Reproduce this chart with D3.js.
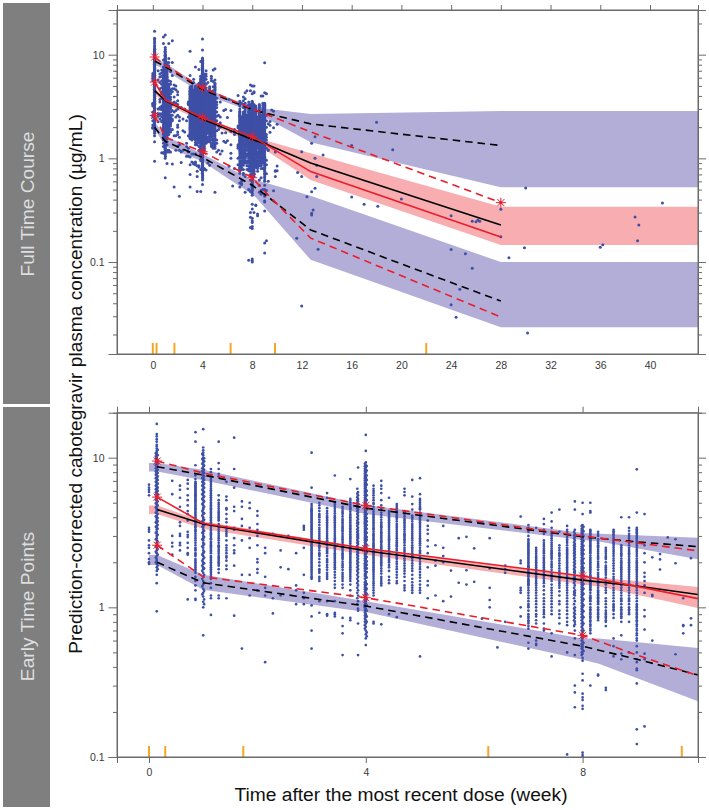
<!DOCTYPE html>
<html><head><meta charset="utf-8">
<style>
html,body{margin:0;padding:0;background:#fff}
svg{display:block}
text{font-family:"Liberation Sans",Arial,sans-serif}
.ax path,.ax line{stroke:#6a6a6a;stroke-width:1}
.ax text{fill:#3a3a3a;font-size:10.5px}
</style>
<script src="https://cdn.jsdelivr.net/npm/d3@7"></script>
</head><body>
<svg id="c" width="709" height="810"></svg>
<script>
// Observed values, one list per nominal day after the most recent dose
const obsDays=[0,1,3,4,5,6,7,8,9,10,11,12,13,14,15,16,17,18,19,20,21,22,23,24,25,26,27,28,29,30,31,32,33,34,35,36,37,38,39,40,41,42,43,44,45,46,48,49,50,51,52,53,54,55,56,57,58,59,60,61,62,63,64,65,66,67,68,69,70];
const obsValues=[
[6.6,6.3,6.1,5.9,5.6,3.4,3.3,3.2,2.8,2.6,2.5,2.3,2.1,2.0,1.95],
[16.8,14.4,13.9,13.3,12.8,12.2,11.9,11.5,11.1,10.8,10.5,10.3,10.1,9.9,9.7,9.5,9.2,9.0,8.8,8.6,8.4,8.2,8.0,7.8,7.6,7.4,7.2,7.0,6.8,6.6,6.4,6.25,6.1,5.95,5.8,5.65,5.5,5.35,5.2,5.05,4.9,4.75,4.6,4.5,4.4,4.25,4.1,4.0,3.9,3.8,3.65,3.5,3.4,3.3,3.2,3.1,3.0,2.9,2.8,2.7,2.6,2.5,2.4,2.3,2.2,2.1,2.05,1.95,1.85,1.75,1.65,1.45,0.94],
[7.0,5.7,3.0,2.7,2.55,2.25],
[6.5,6.1,5.4,4.7,3.7,3.5,3.1,3.0,2.7,2.6,2.4],
[7.1,6.7,6.2,5.6,5.2,4.8,4.4,4.2,3.8,3.2,3.05,2.95,2.7,2.5,2.3,2.25,1.13],
[14.8,12.8,8.9,7.6,7.2,6.9,6.7,6.4,6.2,6.0,5.8,5.6,5.4,5.2,5.0,4.8,4.6,4.4,4.3,4.1,4.0,3.8,3.7,3.5,3.4,3.3,3.2,3.1,2.9,2.8,2.7,2.5,2.4,2.3,2.2,2.1,2.0,1.9,1.8,1.7,1.14,1.12],
[15.5,11.7,11.2,10.8,10.4,10,9.6,9.3,9,8.7,8.4,8.2,8,7.8,7.6,7.4,7.2,7,6.8,6.6,6.4,6.2,6,5.8,5.6,5.4,5.2,5,4.8,4.6,4.5,4.3,4.2,4,3.9,3.8,3.7,3.6,3.5,3.4,3.3,3.2,3.1,3,2.9,2.8,2.7,2.6,2.5,2.4,2.3,2.2,2.1,2,1.95,1.85,1.8,1.7,1.6,1.5,1.42,1.33,1.25,1.18,1.09,1.0,0.65],
[8.4,7.5,7,6.6,6.2,5.9,5.6,5.3,5.0,4.8,4.6,4.4,4.2,4.0,3.8,3.6,3.5,3.4,3.25,3.1,3.0,2.85,2.7,2.6,2.5,2.4,2.3,2.15,2.05,1.95,1.85,1.75,1.6,1.2,1.15,0.89],
[12.8,9.2,8.4,7.8,5.2,5,4.7,4.4,4.2,4,3.8,3.4,3.2,3,2.8,2.6,2.5,2.35,2.2,2.1,2,1.9,1.2,1.15],
[6.9,5.2,4.6,4.5,3.7,3.3,3.2,3.1,2.6,2.5,2.4,2.2,2.05,1.9,1.15],
[13.6,8.4,6.3,4.7,4.4,3.4,3.3,2.9,2.6,2.4,2.3,1.9,0.88],
[5.1,4.7,3.9,3.5,2.8,1.65,0.53],
[5.0,4.6,3.4,2.9,2.5,1.65,1.2],
[4.4,4.1,3.6,3.3,3.0,2.6,2.1,2.0,1.8,1.7,1.3],
[2.5,2.3,1.6,1.35,1.2,0.43],
[3.1,1.15,0.91],
[2.4,1.85,1.2],
[3.0,1.8],
[2.3,1.4,1.3,1.05],
[3.5,3.4,3.3,2.5,1.65,1.25,1.15,1.05],
[10.8,6.3,4.9,4.6,4.45,4.3,4.15,4,3.85,3.7,3.55,3.4,3.3,3.15,3,2.85,2.7,2.6,2.5,2.4,2.3,2.2,2.1,2,1.9,1.8,1.7,1.6,1.55,1.03,0.87,0.7,0.53],
[5,4.6,4.2,4,3.7,3.4,3.2,3,2.8,2.6,2.5,2.3,2.2,2,1.8,1.7,1.55,1.1,0.92],
[5.8,5.4,4.4,4.1,3.9,3.7,3.5,3.3,3.1,3,2.8,2.7,2.5,2.4,2.3,2.1,2,1.85,1.7,1.6,1.1,0.9,0.88],
[7.6,5,4.7,4.4,4.1,3.9,3.7,3.5,3.3,3.1,2.9,2.75,2.6,2.45,2.3,2.2,2.1,2,1.9,1.8,1.65,1.5,1.1,0.92,0.9,0.87],
[4.7,4.4,4.2,3.9,3.7,3.5,3.35,3.2,3,2.85,2.7,2.55,2.45,2.3,2.2,2.1,1.95,1.85,1.7,1.6,1.5,0.85,0.75,0.67,0.48],
[7.2,5.3,5,4.7,4.5,4.2,4,3.8,3.6,3.45,3.3,3.15,3,2.9,2.75,2.6,2.5,2.4,2.3,2.2,2.1,2,1.9,1.8,1.7,1.6,1.5,0.85,0.82],
[8.6,5.9,5.6,5.3,5.1,4.9,4.7,4.5,4.3,4.1,3.9,3.7,3.6,3.4,3.25,3.1,3,2.9,2.75,2.65,2.5,2.4,2.3,2.2,2.1,2,1.9,1.8,1.7,1.6,1.5,1.4,1.3,1.2,1.1,0.98,0.95,0.78,0.48],
[14.2,11.1,9.3,8.9,8.6,8.3,8,7.7,7.4,7.2,6.9,6.7,6.5,6.3,6.1,5.9,5.7,5.5,5.3,5.15,5,4.85,4.7,4.55,4.4,4.25,4.1,4,3.9,3.8,3.7,3.6,3.5,3.4,3.3,3.2,3.1,3,2.9,2.85,2.75,2.65,2.55,2.5,2.4,2.3,2.25,2.15,2.1,2,1.95,1.9,1.85,1.8,1.7,1.65,1.6,1.5,1.45,1.4,1.35,1.3,1.25,1.2,1.15,1.1,1.06,1.02,0.98,0.94,0.9,0.86,0.82,0.78,0.74,0.7,0.66,0.62,0.56],
[6.5,6,5.6,5.2,4.9,4.5,4.2,4,3.8,3.6,3.4,3.3,3.1,3,2.85,2.7,2.6,2.5,2.35,2.25,2.15,2.05,1.95,1.85,1.75,1.65,1.55,1.45,1.35,1.25,0.8,0.78],
[7,6.5,5.8,4.8,4.3,4,3.7,3.5,3.4,3.2,3.1,2.95,2.8,2.7,2.55,2.45,2.3,2.2,2.1,2,1.9,1.75,1.6,1.5,1.4,0.77],
[5.4,4.4,4.2,4,3.8,3.6,3.4,3.2,3,2.85,2.7,2.55,2.4,2.25,2.1,2,1.85,1.6,1.45,0.9],
[4.9,4.6,4.35,4.1,3.9,3.6,3.4,3.2,3,2.8,2.65,2.55,2.4,2.2,2.1,1.95,1.8,1.65,1.5,1.45,0.86],
[6.2,5.9,5.6,4.4,4.2,3.9,3.7,3.5,3.3,3.1,3,2.85,2.7,2.5,2.35,2.2,2.05,1.9,1.75,1.6,1.4,1.3],
[7.1,5.5,4.9,4.1,3.9,3.6,3.4,3.2,3,2.8,2.6,2.45,2.3,2.2,2.05,1.9,1.75,1.55,1.4,1.3,1.25],
[7.3,5.7,5.3,5,4.7,4.5,4.1,3.9,3.7,3.5,3.3,3.1,2.9,2.75,2.6,2.4,2.3,2.1,1.95,1.8,1.65,1.5,1.35,1.25,0.47],
[3.8,3.5,3.3,3.1,2.8,2.55,2.3,1.85,1.5,1.4,1.15],
[2.6,2.05,1.9,1.2],
[3.5,2.5,2.2,2,1.1],
[1.76,1.18],
[2.9,1.46],
[2.96,1.77,1.42],
[2.48,1.48],
[3.7,0.84],
[2.9,1.82,1.35,1.12,1.0],
[0.54],
[1.9,1.8,1.7,0.8],
[4.04,2.05,1.97,1.35,1.3,1.25,1.0,0.87],
[3.55,3.4,3.2,2.85,2.7,2.6,2.5,2.4,2.3,2.2,2.1,2.05,2,1.9,1.85,1.8,1.7,1.65,1.6,1.55,1.5,1.45,1.4,1.3,1.2,1.1,1.05,1,0.9,0.85,0.8,0.75,0.72,0.58,0.53],
[3.4,2.5,2.35,2.2,2.1,2,1.9,1.8,1.7,1.6,1.5,1.45,1.35,1.25,1.15,1.05,0.95,0.87,0.78,0.6,0.57,0.56],
[3.9,3.6,3.3,3.1,2.7,2.55,2.4,2.3,2.15,2.05,1.95,1.85,1.75,1.65,1.55,1.45,1.3,1.15,1.1,1,0.93,0.86,0.78,0.72,0.7],
[4.3,3.75,3.4,3.1,2.9,2.7,2.55,2.4,2.3,2.2,2.1,1.95,1.85,1.7,1.6,1.5,1.35,1.25,1.2,1.1,1,0.9,0.67,0.47],
[4.5,3.2,2.5,2.3,2.2,2.05,1.9,1.75,1.65,1.55,1.45,1.35,1.1,1.05,0.85,0.78],
[3.5,3.3,3.1,2.85,2.7,2.5,2.4,2.3,2.2,2.1,2,1.9,1.8,1.7,1.6,1.5,1.4,1.3,1.2,1.1,1,0.95,0.85,0.8,0.76,0.5,0.104],
[5.1,4.5,3.3,3.1,2.95,2.8,2.65,2.55,2.45,2.35,2.25,2.15,2.05,1.95,1.85,1.75,1.7,1.6,1.55,1.5,1.4,1.3,1.25,1.2,1.1,1,0.95,0.9,0.85,0.8,0.77,0.7,0.62,0.48,0.3,0.27,0.215],
[5,4.2,3.55,3.4,3.3,3.2,3.1,3,2.9,2.8,2.7,2.6,2.5,2.45,2.35,2.3,2.2,2.1,2.05,2,1.9,1.85,1.8,1.75,1.7,1.65,1.6,1.55,1.5,1.45,1.4,1.35,1.3,1.25,1.2,1.15,1.1,1.05,1,0.96,0.92,0.88,0.84,0.8,0.76,0.72,0.68,0.65,0.62,0.59,0.56,0.54,0.52,0.49,0.46,0.44,0.36,0.325,0.265,0.25,0.24,0.22,0.21,0.107,0.103,0.1],
[5,4.4,4.3,3.3,3.2,3.05,2.9,2.8,2.7,2.6,2.5,2.4,2.3,2.15,2.05,1.95,1.85,1.75,1.65,1.6,1.5,1.45,1.4,1.35,1.3,1.2,1.15,1.1,1,0.95,0.9,0.85,0.8,0.75,0.72,0.7,0.67,0.3],
[3.2,3,2.75,2.6,2.5,2.35,2.2,2.1,1.95,1.85,1.7,1.6,1.5,1.4,1.3,1.25,1.2,1.15,1.1,1.05,0.97,0.92,0.87,0.82,0.35,0.355],
[2.5,2.35,2.2,2.1,1.9,1.8,1.75,1.65,1.5,1.35,1.25,1.1,1.05,0.95,0.9,0.85,0.8,0.75,0.29,0.28],
[3.3,3.15,3,2.8,2.65,2.5,2.35,2.2,2.05,1.9,1.75,1.6,1.5,1.35,1.25,1.15,1.05,1,0.95,0.85,0.62,0.55,0.47],
[4,2.6,2.45,2.3,2.2,2.05,1.95,1.85,1.75,1.65,1.55,1.45,1.35,1.25,1.15,1.1,1,0.95,0.9,0.85,0.8,0.65,0.49,0.45],
[4,3.4,3.1,2.9,2.7,2.5,2.35,2.25,2.1,2,1.9,1.85,1.75,1.65,1.55,1.45,1.35,1.25,1.15,1.1,1,0.95,0.9,0.8,0.5],
[8.36,4.3,3.4,3.25,3.1,2.95,2.8,2.65,2.5,2.35,2.2,2.05,1.95,1.85,1.75,1.65,1.55,1.45,1.4,1.35,1.25,1.15,1.05,1,0.95,0.9,0.85,0.8,0.75,0.7,0.65,0.6,0.55,0.5,0.45,0.43,0.39,0.38,0.31,0.153,0.122],
[4.2,2.6,2.3,2,1.7,1.6,1.5,1.4,1.25,0.96,0.87,0.71,0.49,0.45,0.16],
[2.16,1.21,1.19,0.6],
[2.27,2.09,1.79],
[2.93],
[2.85,1.97,0.486],
[1.15,0.76,0.75,0.67],
[2.13,0.845,0.76]
];
// Further readings in the crowded columns, where samples fall slightly off the nominal day
const extraDays=[0.88,1.12,6,6.88,7.12,8,9,10,21,22,23,24,25,26,26.9,27.88,28.12,29,30,31,32,33,34,35,49,50,51,52,53,54,54.9,55.88,56.12,57,58,59,60,61,62,63];
const extraValues=[
[10.7,10.2,9.8,9.35,8.9,8.5,8.1,7.7,7.3,6.9,6.5,6.15,5.85,5.55,5.25,4.95,4.65,4.3,4.05,3.7,3.45,3.15,2.85,2.55,2.35,2.15,2.0],
[11.3,10.4,9.6,9.1,8.7,8.3,7.9,7.5,7.1,6.7,6.3,6,5.7,5.4,5.1,4.8,4.45,4.2,3.95,3.75,3.55,3.35,3.05,2.75,2.45,2.25,1.9,1.8],
[6.75,6.55,6.3,6.1,5.9,5.7,5.5,5.3,5.1,4.9,4.7,4.5,4.2,3.9,3.6,3.45,3.25,3.0,2.6,2.45,2.25,2.05,1.95,1.85,1.75,1.6,1.5,1.4,1.3],
[10.6,9.8,9.1,8.5,8.1,7.7,7.3,6.9,6.5,6.1,5.7,5.3,4.9,4.4,4.1,3.75,3.45,3.15,2.85,2.55,2.25,2.05,1.9,1.75,1.55,1.38,1.22],
[9.9,9.45,8.85,8.3,7.9,7.5,7.1,6.7,6.3,5.9,5.5,5.1,4.7,4.25,3.85,3.55,3.25,2.95,2.65,2.35,2.15,1.97,1.82,1.65,1.46,1.29,1.13,1.05],
[8.0,7.2,6.8,6.4,6.05,5.75,5.45,5.15,4.9,4.7,4.5,4.3,4.1,3.9,3.7,3.3,3.15,3.05,2.9,2.75,2.65,2.55,2.45,2.35,2.2,2.1,2.0,1.9,1.8,1.7,1.65,1.55,1.45,1.35],
[7.5,5.6,4.85,4.55,4.3,4.1,3.9,3.6,3.3,3.1,2.9,2.7,2.55,2.42,2.28,2.15,2.05,1.95,1.8,1.7],
[5.5,4.2,3.9,3.45,3,2.8,2.3,2.15,1.8],
[4.75,4.5,4.38,4.22,4.08,3.92,3.78,3.62,3.48,3.35,3.22,3.08,2.92,2.78,2.65,2.55,2.45,2.35,2.25,2.15,2.05,1.95,1.85,1.75,1.65,1.58],
[4.8,4.4,4.1,3.85,3.55,3.3,3.1,2.9,2.7,2.55,2.4,2.25,2.1,1.9,1.75,1.6,1.5],
[4.6,4.25,4,3.8,3.6,3.4,3.2,2.9,2.75,2.6,2.45,2.35,2.2,2.05,1.92,1.78,1.65,1.55],
[4.85,4.55,4.25,4,3.8,3.6,3.4,3.2,3,2.82,2.68,2.52,2.38,2.25,2.15,2.05,1.95,1.85,1.72,1.58,1.42,1.35],
[4.55,4.3,4.05,3.8,3.6,3.42,3.28,3.1,2.92,2.78,2.62,2.5,2.38,2.25,2.15,2.02,1.9,1.78,1.65,1.55,1.42,1.35],
[5.15,4.85,4.6,4.35,4.1,3.9,3.7,3.52,3.38,3.22,3.08,2.95,2.82,2.68,2.55,2.45,2.35,2.25,2.15,2.05,1.95,1.85,1.75,1.65,1.55,1.42,1.3,1.2],
[6.2,5.75,5.45,5.2,5,4.8,4.6,4.4,4.2,4,3.8,3.65,3.5,3.32,3.18,3.05,2.95,2.82,2.7,2.58,2.45,2.35,2.25,2.15,2.05,1.95,1.85,1.75,1.65,1.55,1.45,1.35,1.25,1.15,1.05],
[9.1,8.75,8.45,8.15,7.85,7.55,7.3,7.05,6.8,6.6,6.4,6.2,6,5.8,5.6,5.4,5.22,5.07,4.92,4.77,4.62,4.47,4.32,4.17,4.05,3.95,3.85,3.75,3.65,3.55,3.45,3.35,3.25,3.15,3.05,2.95,2.87,2.8,2.7,2.6,2.52,2.45,2.35,2.27,2.2,2.12,2.05,1.97,1.92,1.87,1.82,1.75,1.67,1.62,1.55,1.47,1.42,1.37,1.32,1.27,1.22,1.17,1.12,1.08,1.04,1,0.96,0.92,0.88,0.84,0.8,0.76,0.72],
[8.8,8.2,7.6,7.1,6.6,6.0,5.6,5.2,4.8,4.5,4.2,3.95,3.75,3.55,3.35,3.15,2.95,2.82,2.62,2.47,2.33,2.17,2.03,1.92,1.82,1.72,1.58,1.43,1.33,1.23,1.13,1.03,0.95,0.87,0.8,0.68,0.64],
[6.2,5.8,5.4,5,4.7,4.35,4.1,3.9,3.7,3.5,3.35,3.2,3.05,2.92,2.78,2.65,2.55,2.42,2.3,2.2,2.1,2,1.9,1.8,1.7,1.6,1.5,1.4,1.3,1.2],
[6.2,5.2,4.55,4.15,3.85,3.6,3.45,3.3,3.15,3.02,2.88,2.75,2.62,2.5,2.38,2.25,2.15,2.05,1.95,1.82,1.68,1.55,1.45],
[4.3,4.1,3.9,3.7,3.5,3.3,3.1,2.92,2.78,2.62,2.48,2.32,2.18,2.05,1.92,1.75,1.52],
[4.75,4.45,4.2,4,3.75,3.5,3.3,3.1,2.9,2.72,2.6,2.47,2.3,2.15,2.02,1.87,1.72,1.58],
[4.3,4.05,3.8,3.6,3.4,3.2,3.05,2.92,2.78,2.6,2.42,2.28,2.12,1.97,1.82,1.68,1.5,1.35],
[4.5,4,3.75,3.5,3.3,3.1,2.9,2.7,2.52,2.38,2.25,2.12,1.97,1.82,1.65,1.47,1.35],
[5.15,4.85,4.6,4.3,4,3.8,3.6,3.4,3.2,3,2.82,2.68,2.5,2.35,2.2,2.02,1.87,1.72,1.58,1.42,1.3],
[3.3,3.0,2.78,2.65,2.55,2.45,2.35,2.25,2.15,1.95,1.88,1.75,1.68,1.62,1.52,1.48,1.42,1.35,1.25,1.15,1.02,0.95,0.87,0.82,0.78],
[2.42,2.28,2.15,2.05,1.95,1.85,1.75,1.65,1.55,1.4,1.3,1.2,1.1,1,0.9,0.82],
[2.8,2.62,2.47,2.35,2.22,2.1,2,1.9,1.8,1.7,1.6,1.5,1.38,1.22,1.05,0.96,0.9],
[3.2,3,2.8,2.62,2.47,2.35,2.25,2.15,2.02,1.9,1.78,1.65,1.55,1.42,1.3,1.15,1.05,0.95],
[2.6,2.4,2.25,2.12,1.97,1.82,1.7,1.6,1.5,1.4,1.28,1.2,0.95,0.9],
[3.2,2.95,2.78,2.6,2.45,2.35,2.25,2.15,2.05,1.95,1.85,1.75,1.65,1.55,1.45,1.35,1.25,1.15,1.05,0.9],
[3.2,3.02,2.88,2.72,2.6,2.5,2.4,2.3,2.2,2.1,2,1.9,1.8,1.72,1.65,1.58,1.52,1.45,1.35,1.27,1.22,1.15,1.05,0.98,0.92,0.87,0.82,0.75],
[3.5,3.35,3.25,3.15,3.05,2.95,2.85,2.75,2.65,2.55,2.47,2.4,2.32,2.25,2.15,2.07,2.02,1.95,1.87,1.82,1.77,1.72,1.67,1.62,1.57,1.52,1.47,1.42,1.37,1.32,1.27,1.22,1.17,1.12,1.07,1.02,0.98,0.94,0.9,0.86,0.82,0.78,0.74,0.7,0.66,0.63,0.6,0.57,0.55,0.53,0.5,0.48],
[3.45,3.22,3,2.78,2.58,2.42,2.27,2.12,1.97,1.83,1.73,1.63,1.53,1.43,1.33,1.23,1.13,1.03,0.94,0.86,0.78,0.7,0.64,0.58,0.51],
[3.25,3.12,2.98,2.85,2.75,2.65,2.55,2.45,2.35,2.22,2.1,2,1.9,1.8,1.7,1.62,1.55,1.47,1.42,1.37,1.32,1.25,1.17,1.12,1.05,0.97,0.92,0.87,0.82,0.77],
[3.1,2.85,2.68,2.55,2.42,2.28,2.15,2.02,1.9,1.78,1.65,1.55,1.45,1.35,1.27,1.22,1.17,1.12,1.07,1,0.95,0.9,0.85],
[2.42,2.28,2.15,2,1.85,1.7,1.58,1.42,1.3,1.15,1,0.92,0.87,0.82],
[3.22,3.08,2.9,2.72,2.58,2.42,2.28,2.12,1.97,1.82,1.67,1.55,1.42,1.3,1.2,1.1,1.02,0.97,0.9],
[2.52,2.38,2.25,2.12,2,1.9,1.8,1.7,1.6,1.5,1.4,1.3,1.2,1.12,1.05,0.97,0.92,0.87],
[3.25,3,2.8,2.6,2.42,2.3,2.18,2.05,1.95,1.8,1.7,1.6,1.5,1.4,1.3,1.2,1.12,1.05,0.97,0.92],
[3.32,3.18,3.02,2.88,2.72,2.58,2.42,2.28,2.12,2,1.9,1.8,1.7,1.6,1.5,1.42,1.37,1.3,1.2,1.1,1.02,0.97,0.92,0.87,0.82,0.77,0.72,0.67,0.62]
];
// Sparse observations later in the course: times in weeks and matching values
const lateTimes=[11.58,11.65,11.98,11.98,11.98,12.4,12.78,12.78,12.78,12.78,12.9,13.05,13.05,13.05,13.19,13.19,13.3,13.7,16,16,17,18,18.1,19.3,20,24,24,24,24.4,24.7,25.15,25.7,25.7,26,26.15,26.3,28,28,28.65,29.9,30,30.15,36,36.2,38.8,39,39.1,41];
const lateValues=[0.17,0.73,0.0377,0.667,1.16,0.427,0.284,0.295,0.477,1.4,0.318,0.515,1.0,1.62,0.667,0.86,0.133,1.08,0.425,1.33,0.36,2.23,0.345,1.21,0.405,0.0388,0.132,0.28,0.0294,0.0547,0.12,0.087,0.248,0.244,0.255,0.248,0.175,0.323,0.11,0.137,0.519,0.0207,0.139,0.147,0.272,0.16,0.228,0.372];
// Prediction bands
const bandTimes=[0,0.15,1,4,8,8.3,12.7,28,44];
const upperBandHigh=[9.2,9.2,8.3,4.83,3.14,3.1,2.68,2.87,2.87];
const upperBandLow=[8.1,8.1,7.08,4.2,2.82,2.75,1.43,0.526,0.526];
const medianBandHigh=[4.8,4.8,3.75,2.5,1.62,1.58,1.12,0.342,0.342];
const medianBandLow=[4.2,4.2,3.35,2.25,1.42,1.38,0.62,0.146,0.146];
const lowerBandHigh=[2.24,2.24,1.65,1.1,0.62,0.62,0.436,0.1,0.1];
const lowerBandLow=[1.92,1.92,1.31,0.93,0.447,0.42,0.105,0.0235,0.0235];
// Percentile lines
const lineTimes=[0.15,1,4,8,9,12.7,28];
const predictedMedian=[4.5,3.6,2.39,1.52,1.39,0.9,0.228];
const observedMedian=[5.45,3.65,2.47,1.62,1.38,0.745,0.174];
const predictedUpper=[8.7,7.66,4.6,2.96,2.74,2.15,1.33];
const observedUpper=[9.5,7.9,4.8,3.0,2.7,1.8,0.374];
const predictedLower=[2,1.46,1.02,0.55,0.45,0.204,0.042];
const observedLower=[2.6,1.6,1.16,0.65,0.48,0.17,0.0295];
// Observed percentile stars
const starTimes=[0.15,0.15,0.15,4,4,4,8,8,28];
const starValues=[9.5,5.45,2.6,4.8,2.47,1.16,1.62,0.65,0.374];
const rugTimes=[0,0.3,1.74,6.26,9.83,22];
// Tick values and labels
const topXTicks=[0,4,8,12,16,20,24,28,32,36,40];
const bottomXTicks=[0,4,8];
const majorYTicks=[0.1,1,10];
const minorYTicksTop=[0.02,0.03,0.04,0.05,0.06,0.07,0.08,0.09,0.2,0.3,0.4,0.5,0.6,0.7,0.8,0.9,2,3,4,5,6,7,8,9,20];
const minorYTicksBottom=[0.2,0.3,0.4,0.5,0.6,0.7,0.8,0.9,2,3,4,5,6,7,8,9];
const stripLabels=["Full Time Course","Early Time Points"];
const yTitle="Prediction-corrected cabotegravir plasma concentration (µg/mL)";
const xTitle="Time after the most recent dose (week)";

const BLUE="#B3AED7",PINK="#F8AEB0",RED="#EC1C2A",DOT="#3E4FA6",ORANGE="#F6A623";
const svg=d3.select("#c");
const L=117,R=698;
const panels=[
 {top:10,bot:354,xd:[(L-152.8)/12.43,(R-152.8)/12.43],yd:[10**(1+(54.7-10)/103.7),10**(-1-(354-262)/103.7)],xt:topXTicks,minor:minorYTicksTop,xTick:0,rugH:11,r:1.5},
 {top:412.7,bot:757,xd:[(L-149)/54.2,(R-149)/54.2],yd:[10**(1+(457.7-412.7)/149.7),0.1],xt:bottomXTicks,minor:minorYTicksBottom,xTick:6,rugH:11,r:1.35}
];
// strips
const strips=[[3,401],[407,400]];
strips.forEach(([y,h],i)=>{
  svg.append("rect").attr("x",3).attr("y",y).attr("width",47).attr("height",h).attr("fill","#7F7F7F");
  svg.append("text").attr("transform",`translate(33.5,${i?606.5:204}) rotate(-90)`).attr("text-anchor","middle")
   .attr("fill","#DEDEDE").attr("font-size",19.2).text(stripLabels[i]);
});
const allObs=[];
obsDays.forEach((d,i)=>obsValues[i].forEach(v=>allObs.push([d/7,v])));
extraDays.forEach((d,i)=>extraValues[i].forEach(v=>allObs.push([d/7,v])));
lateTimes.forEach((t,i)=>allObs.push([t,lateValues[i]]));

panels.forEach((p,pi)=>{
  const x=d3.scaleLinear().domain(p.xd).range([L,R]);
  const y=d3.scaleLog().domain(p.yd).range([p.top,p.bot]);
  const cid="clip"+pi;
  svg.append("clipPath").attr("id",cid).append("rect").attr("x",L).attr("y",p.top).attr("width",R-L).attr("height",p.bot-p.top);
  const g=svg.append("g").attr("clip-path",`url(#${cid})`);
  [[upperBandHigh,upperBandLow,BLUE],[lowerBandHigh,lowerBandLow,BLUE],[medianBandHigh,medianBandLow,PINK]].forEach(([hi,lo,c])=>{
    const area=d3.area().x((d,i)=>x(bandTimes[i])).y0((d,i)=>y(lo[i])).y1((d,i)=>y(hi[i]));
    g.append("path").attr("d",area(bandTimes)).attr("fill",c);
  });
  g.selectAll("circle.o").data(allObs).join("circle").attr("class","o")
    .attr("cx",d=>x(d[0])).attr("cy",d=>y(d[1])).attr("r",p.r).attr("fill",DOT);
  const line=s=>d3.line().x((d,i)=>x(lineTimes[i])).y((d,i)=>y(s[i]))(lineTimes);
  [[predictedUpper,"#000",true],[observedUpper,RED,true],[predictedLower,"#000",true],[observedLower,RED,true],[predictedMedian,"#000",false],[observedMedian,RED,false]].forEach(([s,c,dash])=>{
    g.append("path").attr("d",line(s)).attr("fill","none").attr("stroke",c).attr("stroke-width",1.6)
      .attr("stroke-dasharray",dash?"7.5,5":null);
  });
  const starType={draw(ctx,size){const r=Math.sqrt(size);for(let k=0;k<4;k++){const a=k*Math.PI/4;ctx.moveTo(-r*Math.cos(a),-r*Math.sin(a));ctx.lineTo(r*Math.cos(a),r*Math.sin(a));}}};
  const star=d3.symbol().type(starType).size(25);
  starTimes.forEach((t,i)=>{
    g.append("path").attr("d",star()).attr("transform",`translate(${x(t)},${y(starValues[i])})`)
     .attr("fill","none").attr("stroke",RED).attr("stroke-width",1);
    g.append("circle").attr("cx",x(t)).attr("cy",y(starValues[i])).attr("r",1.6).attr("fill",RED);
  });
  g.selectAll("line.r").data(rugTimes).join("line").attr("class","r")
    .attr("x1",d=>x(d)).attr("x2",d=>x(d)).attr("y1",p.bot).attr("y2",p.bot-p.rugH)
    .attr("stroke",ORANGE).attr("stroke-width",2);
  // axes
  const axisB=d3.axisBottom(x).tickValues(p.xt).tickFormat(d3.format("d")).tickSize(p.xTick).tickPadding(pi?6:8);
  svg.append("g").attr("class","ax").attr("transform",`translate(0,${p.bot})`).call(axisB);
  svg.append("g").attr("class","ax").attr("transform",`translate(0,${p.top})`).call(d3.axisTop(x).tickValues(p.xt).tickFormat("").tickSize(pi?6:5));
  svg.append("g").attr("class","ax").attr("transform",`translate(${L},0)`).call(d3.axisLeft(y).tickValues(p.minor).tickFormat("").tickSize(4));
  svg.append("g").attr("class","ax").attr("transform",`translate(${L},0)`).call(d3.axisLeft(y).tickValues(majorYTicks).tickFormat(d=>String(d)).tickSize(8.5).tickPadding(4));
  svg.append("g").attr("class","ax").attr("transform",`translate(${R},0)`).call(d3.axisRight(y).tickValues(p.minor).tickFormat("").tickSize(4));
  svg.append("g").attr("class","ax").attr("transform",`translate(${R},0)`).call(d3.axisRight(y).tickValues(majorYTicks).tickFormat("").tickSize(8));
  svg.selectAll(".ax path.domain").attr("stroke","#6a6a6a");
  svg.append("rect").attr("x",L).attr("y",p.top).attr("width",R-L).attr("height",p.bot-p.top).attr("fill","none").attr("stroke","#6a6a6a").attr("stroke-width",1);
});
svg.append("text").attr("transform","translate(81.5,384) rotate(-90)").attr("text-anchor","middle").attr("font-size",19.1).attr("fill","#111").text(yTitle);
svg.append("text").attr("x",401).attr("y",801).attr("text-anchor","middle").attr("font-size",19.2).attr("fill","#111").text(xTitle);
</script>
</body></html>
